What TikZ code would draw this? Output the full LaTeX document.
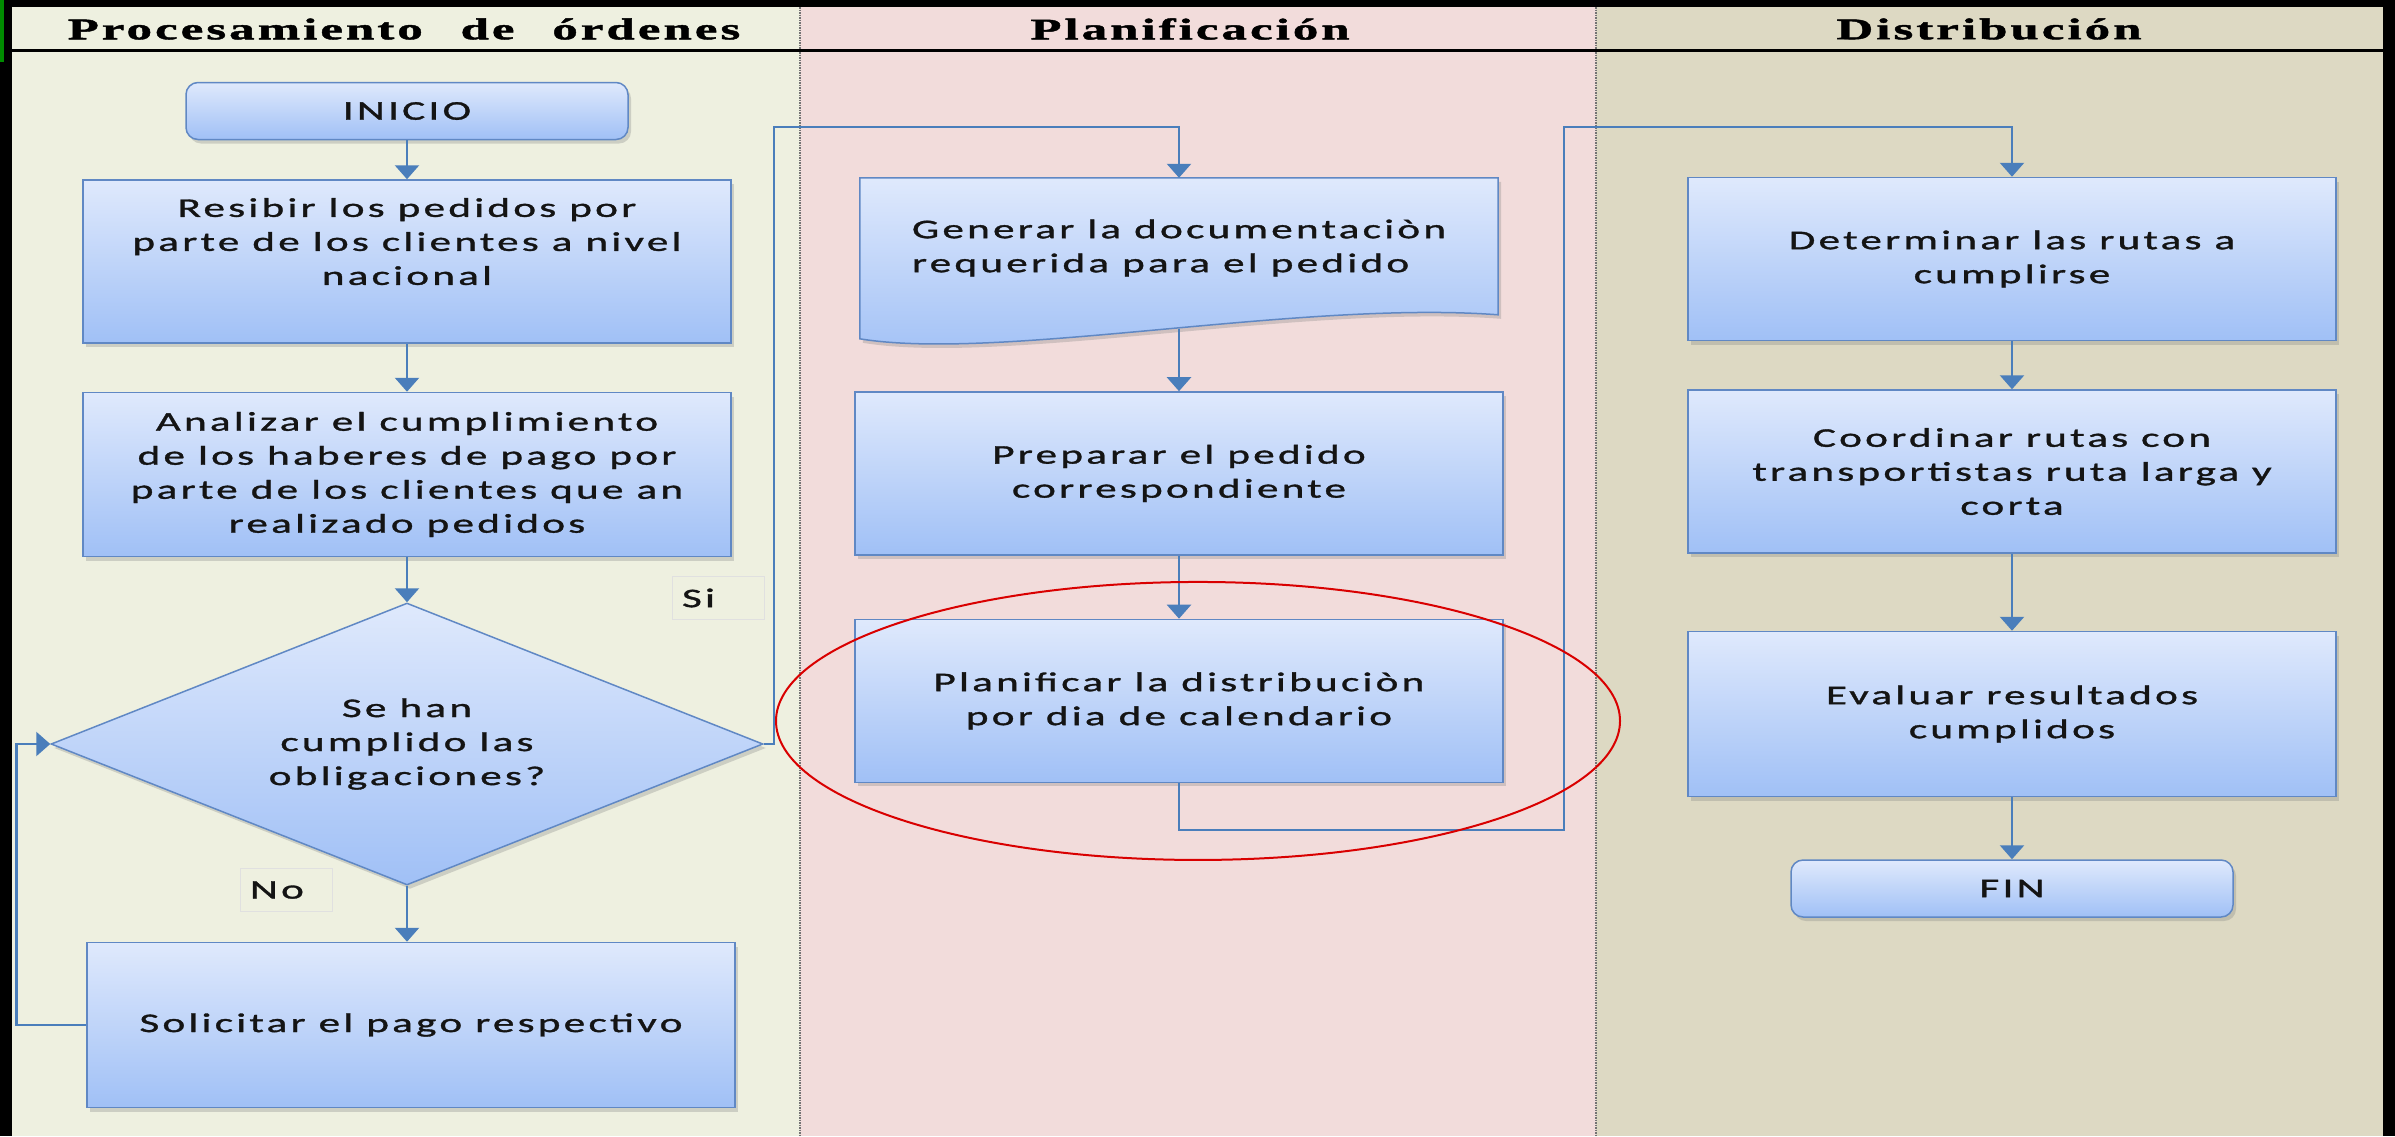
\documentclass[tikz,border=0pt]{standalone}
\usepackage{fontspec}
\setmainfont{Carlito}[FakeStretch=1.6,LetterSpace=12,FakeBold=1.2]
\newfontfamily\headfont{Liberation Serif}[FakeStretch=1.7,LetterSpace=10,FakeBold=1.5]
\usetikzlibrary{shapes.geometric, positioning, arrows.meta, calc, shadows}

\definecolor{lanea}{RGB}{238,240,224}
\definecolor{laneb}{RGB}{242,220,219}
\definecolor{lanec}{RGB}{221,217,195}
\definecolor{boxtop}{RGB}{223,233,252}
\definecolor{boxbot}{RGB}{160,192,246}
\definecolor{boxline}{RGB}{96,136,196}
\definecolor{arrblue}{RGB}{74,126,187}
\definecolor{txt}{RGB}{20,20,20}

\begin{document}
\begin{tikzpicture}[
	  x=1pt, y=-1pt,
	  font={\fontsize{27}{34}\selectfont},
	  node distance=40pt,
	  box/.style={draw=boxline, line width=1.5pt, top color=boxtop, bottom color=boxbot,
	    text=txt, align=center, inner sep=0pt, minimum width=648pt, minimum height=163pt,
	    drop shadow={shadow xshift=3pt, shadow yshift=-4pt, opacity=0.3}},
	  startstop/.style={box, rounded corners=12pt, minimum width=442pt, minimum height=57pt},
	  decision/.style={box, diamond, aspect=2.5, minimum width=712pt, minimum height=282pt},
	  doctext/.style={align=left, text=txt, inner sep=0pt, minimum width=638pt, minimum height=140pt},
	  docbox/.style={draw=boxline, line width=1.5pt, top color=boxtop, bottom color=boxbot,
	    drop shadow={shadow xshift=3pt, shadow yshift=-4pt, opacity=0.3}},
	  tag/.style={draw=black!12, line width=1pt, fill=lanea, text=txt, align=left,
	    text width=72pt, inner xsep=10pt, inner ysep=0pt, minimum height=43pt},
	  head/.style={font={\headfont\fontsize{30}{32}\selectfont\bfseries}, text=black},
	  lanesep/.style={draw=black!55, line width=1.5pt, densely dotted},
	  arr/.style={draw=arrblue, line width=2.5pt, -{Triangle[width=24pt,length=14pt]}},
	  circled/.style={draw=red!85!black, line width=2pt}
	]

	\useasboundingbox (0,0) rectangle (2395,1136);

	% lanes
	\fill[lanea] (12,7) rectangle (800,1136);
	\fill[laneb] (800,7) rectangle (1596,1136);
	\fill[lanec] (1596,7) rectangle (2383,1136);
	\draw[lanesep] (800,7) -- (800,1136);
	\draw[lanesep] (1596,7) -- (1596,1136);
	\fill[black] (0,0) rectangle (2395,7);
	\fill[black] (0,0) rectangle (12,1136);
	\fill[black] (2383,0) rectangle (2395,1136);
	\fill[green!55!black] (0,0) rectangle (4,62);
	\draw[line width=3pt] (12,50) -- (2383,50);

	\node[head] (hproc) at (404,29) {Procesamiento\hspace{22pt} de\hspace{22pt} órdenes};
	\node[head] (hplan) at (1190,29) {Planificación};
	\node[head] (hdist) at (1989,29) {Distribución};

	% Procesamiento de ordenes
	\node[startstop] (inicio) at (407,111) {INICIO};
	\node[box, below=39pt of inicio] (recibir) {Resibir los pedidos por\\parte de los clientes a nivel\\nacional\\[6pt]\mbox{}};
	\node[box, below=48pt of recibir, minimum height=164pt] (analizar) {Analizar el cumplimiento\\de los haberes de pago por\\parte de los clientes que an\\realizado pedidos};
	\node[decision, below=45pt of analizar] (cumple) {Se han\\cumplido las\\obligaciones?};
	\node[box, below=56pt of cumple, xshift=4pt, minimum height=165pt] (solicitar) {Solicitar el pago respectivo};

	\node[tag] (si) at (718,598) {Si};
	\node[tag] (no) at (286,890) {No};

	\draw[arr] (inicio) -- (recibir);
	\draw[arr] (recibir) -- (analizar);
	\draw[arr] (analizar) -- (cumple);
	\draw[arr] (cumple.south) -- (cumple.south |- solicitar.north);
	\draw[arr] (solicitar.west) -- ++(-70,0) |- (cumple.west);

	% Planificacion
	\node[doctext] (generar) at (1179,248) {};
	\path[docbox] (generar.north west) -- (generar.north east) -- ($(generar.north east)+(0,137)$)
	  .. controls ($(generar.north east)+(-198,122)$) and ($(generar.north west)+(140,184)$) .. ($(generar.north west)+(0,161)$) -- cycle;
	\node[doctext] at (generar) {Generar la documentaciòn\\requerida para el pedido};
	\coordinate (genbot) at ($(generar.south)+(0,11)$);
	\node[box, below=62pt of genbot] (preparar) {Preparar el pedido\\correspondiente};
	\node[box, below=63pt of preparar] (planificar) {Planificar la distribuciòn\\por dia de calendario};

	\coordinate (siup) at (774,127);
	\draw[arr] (cumple.east) -| (siup) -| (generar.north);
	\draw[arr] (genbot) -- (preparar);
	\draw[arr] (preparar) -- (planificar);

	% Distribucion
	\node[box] (determinar) at (2012,259) {Determinar las rutas a\\cumplirse};
	\node[box, below=48pt of determinar] (coordinar) {Coordinar rutas con\\transportistas ruta larga y\\corta};
	\node[box, below=77pt of coordinar, minimum height=165pt] (evaluar) {Evaluar resultados\\cumplidos};
	\node[startstop, below=62pt of evaluar] (fin) {FIN};

	\coordinate (pldown) at (1564,830);
	\coordinate (plup) at (1564,127);
	\draw[arr] (planificar.south) |- (pldown) -- (plup) -| (determinar.north);
	\draw[arr] (determinar) -- (coordinar);
	\draw[arr] (coordinar) -- (evaluar);
	\draw[arr] (evaluar) -- (fin);

	\draw[circled] ([shift={(19,20)}]planificar.center) ellipse [x radius=422, y radius=139];

	\end{tikzpicture}
\end{document}
